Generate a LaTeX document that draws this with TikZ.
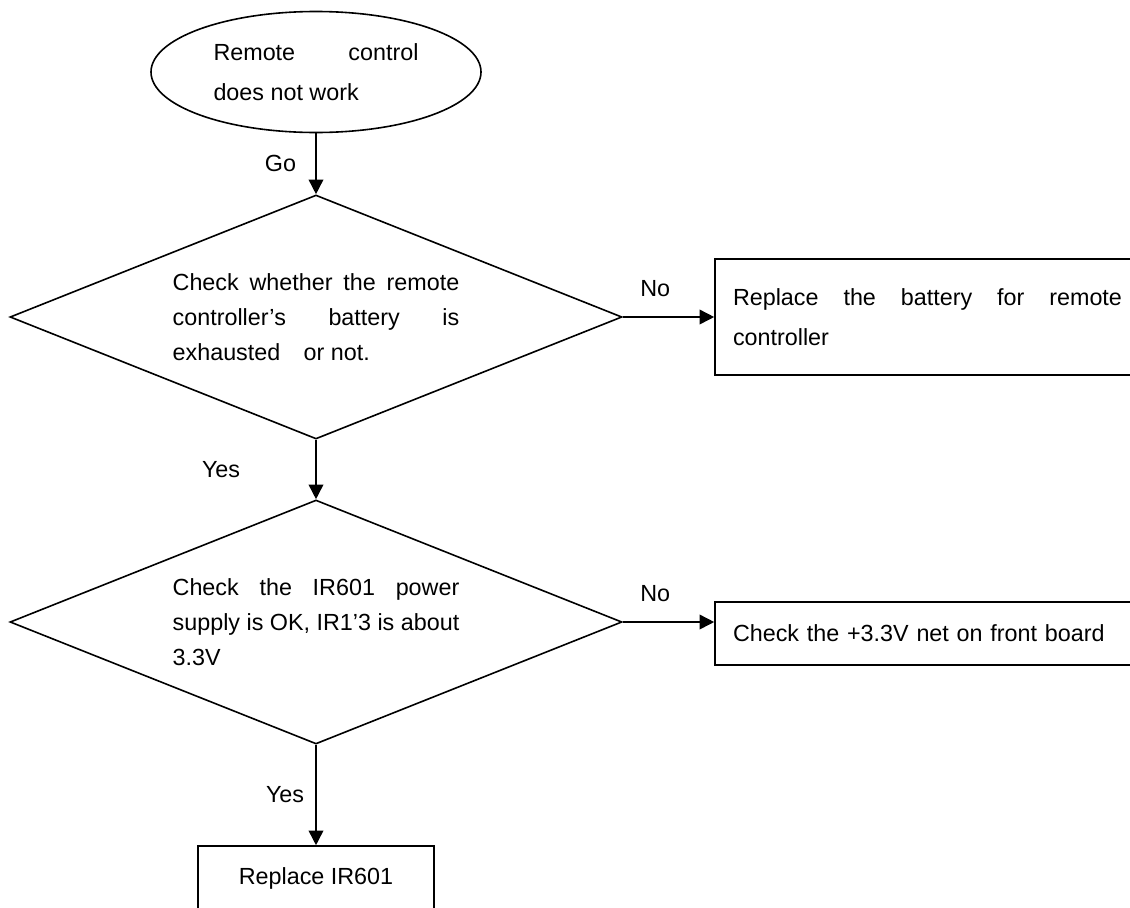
\documentclass[tikz,border=0pt]{standalone}
\usepackage{fontspec}
\setmainfont{Liberation Sans}
\usetikzlibrary{shapes.geometric, arrows.meta}

\begin{document}
\begin{tikzpicture}[x=0.75pt, y=-0.75pt, >={Triangle[length=11pt, width=11pt]}, line width=1.2pt,
		every node/.style={font=\fontsize{17.5}{30}\selectfont},
		decision/.style={draw, diamond, aspect=2.5, minimum width=459pt, minimum height=183pt, inner sep=0pt, text width=215pt, align=justify, font=\fontsize{17.5}{26.25}\selectfont},
		action/.style={draw, rectangle, minimum width=318.75pt, inner sep=0pt, text width=291.75pt}]
		\useasboundingbox (0, 0) rectangle (1130, 907);
		\clip (0, 0) rectangle (1130, 907);
		\node[draw, ellipse, minimum width=247.5pt, minimum height=90.75pt, inner sep=0pt, text width=153.75pt, align=justify] (start) at (316, 72) {Remote control\linebreak does not work};
		\node[decision] (battery) at (316, 317) {Check whether the remote\linebreak controller’s battery is\linebreak exhausted\quad or not.};
		\node[decision] (power) at (316, 622) {Check the IR601 power\linebreak supply is OK, IR1’3 is about\linebreak 3.3V};
		\node[action, minimum height=87pt, align=justify] (newbattery) at (927.5, 317) {Replace the battery for remote\linebreak controller};
		\node[action, minimum height=47.25pt, align=left] (frontboard) at (927.5, 633.5) {Check the +3.3V net on front board};
		\node[draw, rectangle, minimum width=177pt, minimum height=48pt] (replace) at (316, 878) {Replace IR601};
		\draw [->] (start) -- node [left=11pt] {Go} (battery);
		\draw [->] (battery) -- node [left=53pt] {Yes} (power);
		\draw [->] (power) -- node [left=5pt] {Yes} (replace);
		\draw [->] (battery) -- node [above=11pt, pos=0.355] {No} (newbattery);
		\draw [->] (power.east) -- node [above=11pt, pos=0.355] {No} (power.east -| frontboard.west);
	\end{tikzpicture}
\end{document}
